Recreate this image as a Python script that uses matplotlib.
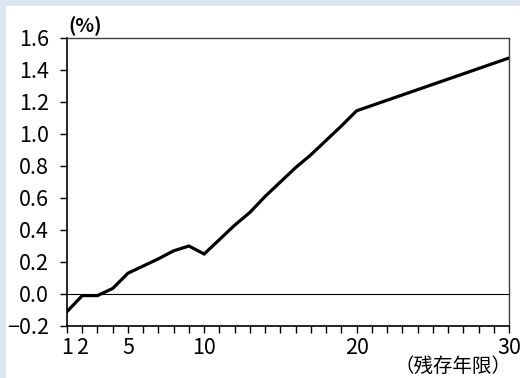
import matplotlib
matplotlib.use('Agg')
import matplotlib.pyplot as plt
import matplotlib.patches as mpatches

plt.rcParams['font.family'] = ['Noto Sans CJK JP', 'DejaVu Sans']

# -- data: residual years vs spread (%) --
years = list(range(1, 31))
values = [-0.11, -0.01, -0.01, 0.035, 0.13, 0.175, 0.22, 0.27, 0.30, 0.25,
          0.34, 0.43, 0.51, 0.61, 0.70, 0.79, 0.87, 0.96, 1.05, 1.145,
          1.178, 1.211, 1.244, 1.277, 1.31, 1.343, 1.376, 1.409, 1.442, 1.475]
xtick_labels = {1: '1', 2: '2', 5: '5', 10: '10', 20: '20', 30: '30'}
yticks = [-0.2, 0.0, 0.2, 0.4, 0.6, 0.8, 1.0, 1.2, 1.4, 1.6]

fig = plt.figure(figsize=(5.2, 3.78), dpi=100)
fig.patch.set_facecolor('#dce6f2')
# white panel (blue border only on top/left)
panel = mpatches.Rectangle((6/520, 0), 1, 1 - 6/378, transform=fig.transFigure,
                           facecolor='white', edgecolor='none', zorder=-10)
fig.add_artist(panel)

ax = fig.add_axes([67/520, 1 - 326/378, 442/520, 288/378])
ax.set_zorder(1)
ax.set_facecolor('white')

ax.plot(years, values, color='black', lw=2.3, solid_joinstyle='miter', zorder=3)
ax.axhline(0, color='black', lw=0.8, zorder=2)

ax.set_xlim(1, 30)
ax.set_ylim(-0.2, 1.6)
ax.set_xticks(years)
ax.set_xticklabels([xtick_labels.get(y, '') for y in years])
ax.set_yticks(yticks)
ax.set_yticklabels(['%.1f' % v if v >= 0 else '−%.1f' % abs(v) for v in yticks])

ax.tick_params(axis='both', direction='out', length=5, width=1, colors='black',
               labelsize=15.5)
ax.tick_params(axis='y', pad=8)
ax.tick_params(axis='x', pad=3)

for s in ['left', 'bottom']:
    ax.spines[s].set_color('black')
    ax.spines[s].set_linewidth(1.2)
for s in ['top', 'right']:
    ax.spines[s].set_color('#404040')
    ax.spines[s].set_linewidth(1.0)

fig.text(68/520, 1 - 26/378, '(%)', fontsize=14, fontweight='bold', ha='left', va='center', zorder=5)
fig.text(511/520, 1 - 366/378, '（残存年限）', fontsize=14, ha='right', va='center', zorder=5)

plt.savefig('out.png', dpi=100, facecolor=fig.get_facecolor())
